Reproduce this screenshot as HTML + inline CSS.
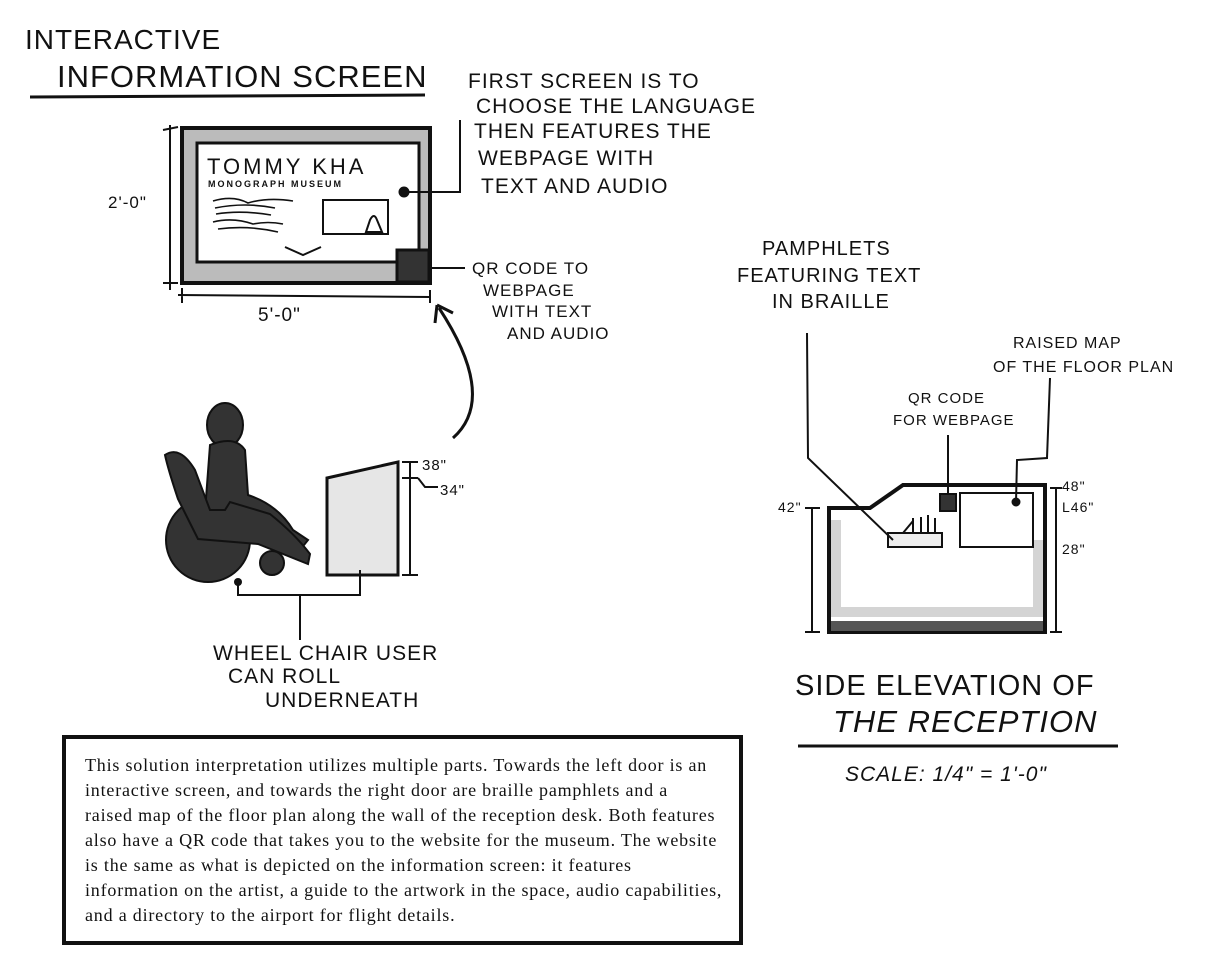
<!DOCTYPE html>
<html><head><meta charset="utf-8"><style>
body{margin:0;background:#fff;width:1224px;height:977px;overflow:hidden}
svg{position:absolute;left:0;top:0}
.h{font-family:"Liberation Sans",sans-serif;fill:#111;letter-spacing:1px}
#box{position:absolute;left:62px;top:735px;width:673px;height:202px;border:4px solid #111;box-sizing:content-box;font-family:"Liberation Serif",serif;font-size:18px;line-height:25px;letter-spacing:0.8px;color:#111;padding:0;white-space:nowrap}
#box p{margin:14px 0 0 19px}
</style></head><body>
<svg width="1224" height="977" viewBox="0 0 1224 977">
<g stroke="#111" fill="none" stroke-width="3">
<path d="M30 97 L425 95"/>
<path d="M798 746 L1118 746"/>
<rect x="182" y="128" width="248" height="155" fill="#bbb" stroke-width="4"/>
<rect x="197" y="143" width="222" height="119" fill="#fff"/>
<rect x="323" y="200" width="65" height="34" stroke-width="2"/>
<path d="M366 232 l4 -12 q4 -8 7 0 l5 12z" stroke-width="2"/>
<path d="M285 247 l18 8 l18 -8" stroke-width="2"/>
<path d="M213 201 q20 -6 35 2 q20 -6 45 -2 M215 208 q30 -6 60 0 M216 214 q25 -4 55 1 M213 222 q20 -5 40 2 q15 -3 30 0 M218 229 q30 -4 60 3" stroke-width="1.6"/>
<rect x="397" y="250" width="32" height="32" fill="#333"/>
<path d="M404 192 L460 192 L460 120 M430 268 L465 268" stroke-width="2"/>
<circle cx="404" cy="192" r="4" fill="#111"/>
<path d="M170 125 L170 290 M163 130 L178 127 M163 283 L178 283 M178 295 L430 297 M182 288 L182 303 M430 290 L430 303" stroke-width="2"/>
<path d="M453 438 q45 -40 -14 -130 M437 305 l-2 18 M437 305 l16 8" stroke-width="3"/>
<path d="M327 478 L398 462 L398 575 L327 575 Z" fill="#e6e6e6" stroke-width="3"/>
<path d="M410 462 L410 575 M402 462 L418 462 M402 575 L418 575 M402 478 L418 478 M418 478 L425 487 L438 487" stroke-width="2"/>
<path d="M238 580 L238 595 L360 595 L360 570 M300 595 L300 640" stroke-width="2"/>
<path d="M829 508 L870 508 L903 485 L1045 485 L1045 632 L829 632 Z" fill="#fff" stroke-width="4"/>
<path d="M836 520 L836 612 L1038 612 L1038 540" stroke="#d4d4d4" stroke-width="10"/>
<rect x="831" y="621" width="212" height="10" fill="#555" stroke="none"/>
<rect x="960" y="493" width="73" height="54" stroke-width="2" fill="#fff"/>
<rect x="940" y="494" width="16" height="17" fill="#333" stroke-width="2"/>
<rect x="888" y="533" width="54" height="14" fill="#eee" stroke-width="2"/>
<path d="M903 533 l10 -12 M913 533 v-15 M921 533 v-16 M928 533 v-18 M935 533 v-15" stroke-width="2"/>
<path d="M807 333 L808 458 L893 540 M948 435 L948 494 M1050 378 L1047 458 L1017 460 L1016 502" stroke-width="2"/>
<circle cx="1016" cy="502" r="3" fill="#111"/>
<path d="M812 508 L812 632 M805 632 L820 632 M805 508 L820 508 M1056 488 L1056 632 M1050 488 L1062 488 M1050 632 L1062 632" stroke-width="2"/>
</g>
<g class="h">
<text x="25" y="49" font-size="28">INTERACTIVE</text>
<text x="57" y="87" font-size="31">INFORMATION SCREEN</text>
<text x="468" y="88" font-size="21">FIRST SCREEN IS TO</text>
<text x="476" y="113" font-size="21">CHOOSE THE LANGUAGE</text>
<text x="474" y="138" font-size="21">THEN FEATURES THE</text>
<text x="478" y="165" font-size="21">WEBPAGE WITH</text>
<text x="481" y="193" font-size="21">TEXT AND AUDIO</text>
<text x="472" y="274" font-size="17">QR CODE TO</text>
<text x="483" y="296" font-size="17">WEBPAGE</text>
<text x="492" y="317" font-size="17">WITH TEXT</text>
<text x="507" y="339" font-size="17">AND AUDIO</text>
<text x="108" y="208" font-size="17">2'-0"</text>
<text x="258" y="321" font-size="19">5'-0"</text>
<text x="207" y="174" font-size="22" letter-spacing="3">TOMMY KHA</text>
<text x="208" y="187" font-size="9" font-weight="bold" letter-spacing="2">MONOGRAPH MUSEUM</text>
<text x="422" y="470" font-size="15">38"</text>
<text x="440" y="495" font-size="15">34"</text>
<text x="213" y="660" font-size="21">WHEEL CHAIR USER</text>
<text x="228" y="683" font-size="21">CAN ROLL</text>
<text x="265" y="707" font-size="21">UNDERNEATH</text>
<text x="762" y="255" font-size="20">PAMPHLETS</text>
<text x="737" y="282" font-size="20">FEATURING TEXT</text>
<text x="772" y="308" font-size="20">IN BRAILLE</text>
<text x="1013" y="348" font-size="16">RAISED MAP</text>
<text x="993" y="372" font-size="16">OF THE FLOOR PLAN</text>
<text x="908" y="403" font-size="15">QR CODE</text>
<text x="893" y="425" font-size="15">FOR WEBPAGE</text>
<text x="778" y="512" font-size="14">42"</text>
<text x="1062" y="491" font-size="14">48"</text>
<text x="1062" y="512" font-size="14">L46"</text>
<text x="1062" y="554" font-size="14">28"</text>
<text x="795" y="695" font-size="29">SIDE ELEVATION OF</text>
<text x="833" y="732" font-size="31" font-style="italic">THE RECEPTION</text>
<text x="845" y="781" font-size="21" font-style="italic">SCALE: 1/4" = 1'-0"</text>
</g>
<g fill="#333" stroke="#111" stroke-width="2">
<circle cx="208" cy="540" r="42"/>
<circle cx="272" cy="563" r="12"/>
<ellipse cx="225" cy="425" rx="18" ry="22"/>
<path d="M210 445 q25 -10 35 5 l3 45 q30 10 45 35 l15 10 l-8 10 l-25 -8 q-15 -20 -45 -25 l-25 -5z"/>
<path d="M165 455 q15 -10 30 15 l15 40 l15 0 l5 -8 l40 12 q25 20 40 40 l-2 10 l-50 -20 l-60 -5 l-20 -40 q-10 -30 -13 -44z"/>
</g>
<circle cx="238" cy="582" r="4" fill="#111"/>
</svg>
<div id="box"><p>This solution interpretation utilizes multiple parts. Towards the left door is an<br>interactive screen, and towards the right door are braille pamphlets and a<br>raised map of the floor plan along the wall of the reception desk. Both features<br>also have a QR code that takes you to the website for the museum. The website<br>is the same as what is depicted on the information screen: it features<br>information on the artist, a guide to the artwork in the space, audio capabilities,<br>and a directory to the airport for flight details.</p></div>
</body></html>
